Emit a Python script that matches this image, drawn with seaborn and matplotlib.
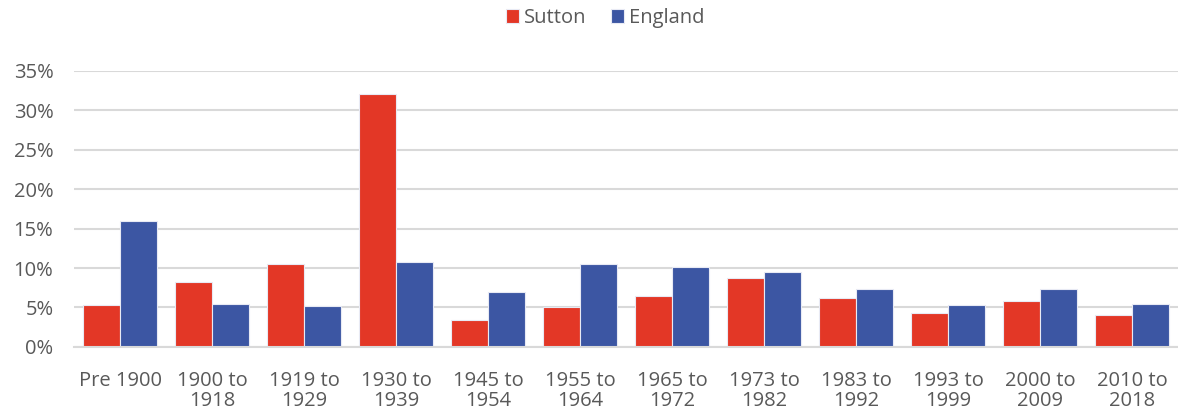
import pandas as pd
import matplotlib
matplotlib.use("Agg")
import matplotlib.pyplot as plt
import seaborn as sns
from matplotlib.ticker import PercentFormatter

# datos
periods = ["Pre 1900", "1900 to\n1918", "1919 to\n1929", "1930 to\n1939", "1945 to\n1954",
           "1955 to\n1964", "1965 to\n1972", "1973 to\n1982", "1983 to\n1992",
           "1993 to\n1999", "2000 to\n2009", "2010 to\n2018"]
sutton = [5.3, 8.2, 10.5, 32.0, 3.4, 5.0, 6.5, 8.7, 6.2, 4.3, 5.8, 4.0]
england = [16.0, 5.5, 5.2, 10.8, 6.9, 10.5, 10.1, 9.5, 7.4, 5.3, 7.4, 5.5]

df = pd.DataFrame({
    "period": periods * 2,
    "area": ["Sutton"] * len(periods) + ["England"] * len(periods),
    "pct": sutton + england,
})

sns.set_style("white")
plt.rcParams["font.family"] = ["Open Sans", "DejaVu Sans"]

fig = plt.figure(figsize=(11.78, 4.19), dpi=100)
ax = fig.add_axes([0.063, 0.172, 0.937, 0.659])

sns.barplot(data=df, x="period", y="pct", hue="area", ax=ax,
            palette={"Sutton": "#E33726", "England": "#3C56A3"},
            width=0.8, edgecolor="#e8eaf4", linewidth=0.8, saturation=1)

ax.set_ylim(0, 35)
ax.set_yticks(range(0, 36, 5))
ax.yaxis.set_major_formatter(PercentFormatter(decimals=0))
ax.set_xlim(-0.5, len(periods) - 0.5)
ax.grid(axis="y", color="#d9d9d9", linewidth=1.5)
ax.set_axisbelow(True)
for s in ["top", "right", "left"]:
    ax.spines[s].set_visible(False)
ax.spines["bottom"].set_color("#d9d9d9")
ax.spines["bottom"].set_linewidth(1.5)
ax.tick_params(axis="both", length=0, labelsize=14.5, colors="#595959")
ax.tick_params(axis="x", pad=17)
ax.tick_params(axis="y", pad=15)
for lbl in ax.get_xticklabels():
    lbl.set_linespacing(1.05)
ax.set_xlabel("")
ax.set_ylabel("")

handles, labels = ax.get_legend_handles_labels()
ax.get_legend().remove()
fig.legend(handles, labels, loc="center", bbox_to_anchor=(0.514, 1 - 18 / 419), ncol=2,
           frameon=False, fontsize=14.5, handlelength=0.65, handleheight=0.7,
           handletextpad=0.25, columnspacing=1.2, labelcolor="#595959")

fig.savefig("out.png", dpi=100)
